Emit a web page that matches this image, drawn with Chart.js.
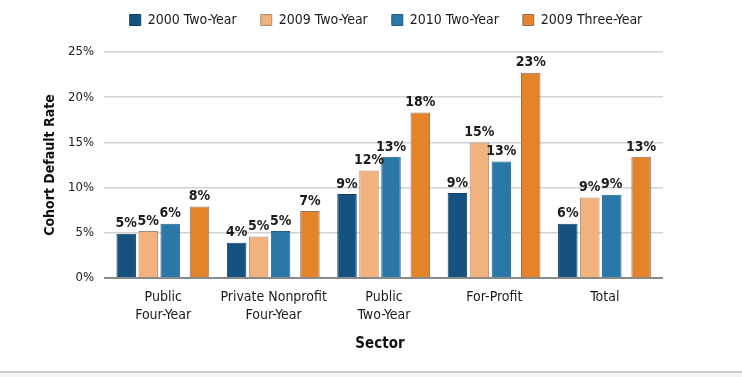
<!DOCTYPE html>
<html>
<head>
<meta charset="utf-8">
<script src="https://cdn.jsdelivr.net/npm/chart.js@4/dist/chart.umd.min.js"></script>
<style>
  html, body { margin: 0; padding: 0; background: #fff; }
  #wrap { position: relative; width: 742px; height: 371px; }
  #foot { width: 742px; height: 4px; border-top: 2px solid #cfcfcf; background: #f3f3f3; }
</style>
</head>
<body>
<div id="wrap"><canvas id="c"></canvas></div>
<div id="foot"></div>
<script>
const categories = [["Public", "Four-Year"], ["Private Nonprofit", "Four-Year"], ["Public", "Two-Year"], "For-Profit", "Total"];
const seriesNames = ["2000 Two-Year", "2009 Two-Year", "2010 Two-Year", "2009 Three-Year"];
const rate2000Two = [4.9, 3.9, 9.3, 9.4, 6.0];
const rate2009Two = [5.2, 4.6, 11.9, 15.0, 8.9];
const rate2010Two = [6.0, 5.2, 13.4, 12.9, 9.2];
const rate2009Three = [7.9, 7.4, 18.3, 22.7, 13.4];
const yTicks = [0, 5, 10, 15, 20, 25];

const FONT = "'DejaVu Sans Condensed', 'DejaVu Sans', sans-serif";
const colors = ["#15527f", "#f2b27e", "#2a78a7", "#e5832a"];
const borders = ["#0f3f63", "#a98a70", "#1f5f86", "#8f7463"];

const valueLabels = {
  id: 'valueLabels',
  afterDatasetsDraw(chart) {
    const ctx = chart.ctx;
    ctx.save();
    ctx.font = "bold 14px " + FONT;
    ctx.fillStyle = "#1b1b1b";
    ctx.textAlign = "center";
    ctx.textBaseline = "bottom";
    chart.data.datasets.forEach((ds, i) => {
      const meta = chart.getDatasetMeta(i);
      meta.data.forEach((bar, j) => {
        ctx.fillText(Math.round(ds.data[j]) + "%", bar.x, bar.y - 3);
      });
    });
    ctx.restore();
  }
};

const legendShift = {
  id: 'legendShift',
  afterLayout(chart) {
    const lg = chart.legend;
    if (lg) { lg.top -= 15; lg.bottom -= 15; }
  }
};

const seriesData = [rate2000Two, rate2009Two, rate2010Two, rate2009Three];
const datasets = seriesData.map((d, i) => ({
  label: seriesNames[i],
  data: d,
  backgroundColor: colors[i],
  borderColor: borders[i],
  borderWidth: 1,
  categoryPercentage: i === 3 ? 0.974 : 0.797,
  barPercentage: i === 3 ? 0.725 : 0.886
}));

const gridColor = c => c.tick && c.tick.value === 0 ? '#8a8a8a' : '#d2d2d2';
const gridWidth = c => c.tick && c.tick.value === 0 ? 2 : 1.5;

new Chart(document.getElementById('c'), {
  type: 'bar',
  data: { labels: categories, datasets },
  options: {
    responsive: true,
    maintainAspectRatio: false,
    animation: false,
    layout: { padding: { left: 30, right: 0, top: 4, bottom: 0 } },
    plugins: {
      legend: {
        position: 'top',
        labels: {
          boxWidth: 11, boxHeight: 11, padding: 24,
          color: '#1b1b1b',
          font: { family: FONT, size: 14 }
        }
      },
      tooltip: { enabled: false }
    },
    scales: {
      x: {
        grid: { display: false },
        border: { display: false },
        ticks: { color: '#1b1b1b', padding: 3, autoSkip: false, labelOffset: 4, font: { family: FONT, size: 14, lineHeight: 1.25 }, maxRotation: 0 },
        title: { display: true, text: 'Sector', color: '#111', font: { family: FONT, size: 15, weight: 'bold' }, padding: { top: 0, bottom: 18 } },
        afterFit(s) { s.height = 93; }
      },
      y: {
        min: 0, max: 25,
        afterBuildTicks(s) { s.ticks = yTicks.map(v => ({ value: v })); },
        grid: { drawTicks: false, color: gridColor, lineWidth: gridWidth },
        border: { display: false },
        ticks: { color: '#1b1b1b', padding: 10, font: { family: FONT, size: 13 }, callback: v => v + '%' },
        title: { display: true, text: 'Cohort Default Rate', color: '#111', font: { family: FONT, size: 14, weight: 'bold' }, padding: { top: 12, bottom: 0 } },
        afterFit(s) { s.width = 74; }
      },
      y2: {
        position: 'right',
        min: 0, max: 25,
        afterBuildTicks(s) { s.ticks = yTicks.map(v => ({ value: v })); },
        grid: { drawOnChartArea: false, drawTicks: true, tickLength: 7, color: gridColor, lineWidth: gridWidth },
        border: { display: false },
        ticks: { display: false },
        afterFit(s) { s.width = 86; }
      }
    }
  },
  plugins: [valueLabels, legendShift]
});
</script>
</body>
</html>
